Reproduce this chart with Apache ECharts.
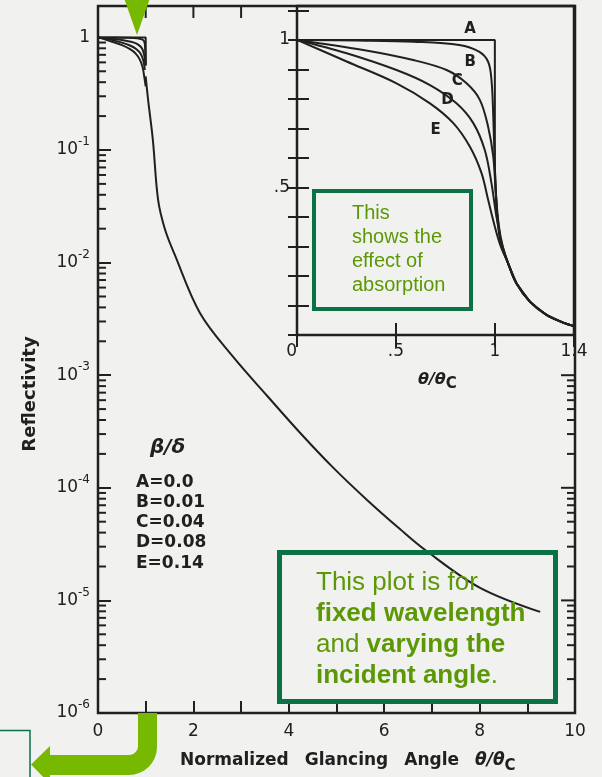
<!DOCTYPE html>
<html>
<head>
<meta charset="utf-8">
<title>Reflectivity vs normalized glancing angle</title>
<script src="https://cdn.jsdelivr.net/npm/echarts@6/dist/echarts.min.js"></script>
<style>
  html, body { margin: 0; padding: 0; background: #f1f1ef; }
  #chart { width: 602px; height: 777px; }
</style>
</head>
<body>
<div id="chart"></div>
<script>
// ---------- values ----------
const curveNames = ['A', 'B', 'C', 'D', 'E'];
const betaOverDelta = ['0.0', '0.01', '0.04', '0.08', '0.14'];

// inset, linear reflectivity vs theta/theta_c, up to where the curves join
const curveA = [[0, 1], [0.5, 1], [1.0, 1], [1.0, 0.56], [1.01, 0.42], [1.03, 0.31]];
const curveB = [[0, 1], [0.3, 0.998], [0.59, 0.994], [0.82, 0.983], [0.92, 0.96], [0.966, 0.926],
                [0.983, 0.864], [0.992, 0.74], [1.0, 0.57], [1.01, 0.42], [1.03, 0.31]];
const curveC = [[0, 1], [0.335, 0.966], [0.587, 0.932], [0.756, 0.898], [0.857, 0.853], [0.924, 0.797],
                [0.966, 0.706], [0.992, 0.604], [1.005, 0.48], [1.02, 0.37], [1.04, 0.30]];
const curveD = [[0, 1], [0.251, 0.955], [0.503, 0.898], [0.672, 0.847], [0.806, 0.785], [0.891, 0.718],
                [0.949, 0.627], [0.983, 0.514], [1.008, 0.401], [1.035, 0.31]];
const curveE = [[0, 1], [0.251, 0.927], [0.503, 0.853], [0.672, 0.785], [0.79, 0.718], [0.874, 0.638],
                [0.933, 0.548], [0.966, 0.458], [1.0, 0.367], [1.03, 0.30]];
// shared part of the inset curves above the critical angle
const insetTail = [[1.067, 0.243], [1.109, 0.175], [1.177, 0.113], [1.261, 0.068], [1.345, 0.042], [1.4, 0.03]];

// main plot, log reflectivity above the critical angle
const mainTail = [[1.0, 0.45], [1.05, 0.28], [1.15, 0.123], [1.26, 0.036], [1.4, 0.02], [1.6, 0.012],
                  [2.14, 3.55e-3], [2.83, 1.46e-3], [3.54, 6.6e-4], [4.23, 3.1e-4], [4.93, 1.51e-4],
                  [5.64, 7.8e-5], [6.33, 4.3e-5], [6.86, 2.8e-5], [8.0, 1.3e-5], [9.27, 7.9e-6]];

// axis ticks
const mainXTicks = [0, 1, 2, 3, 4, 5, 6, 7, 8, 9, 10];
const mainTopTicks = [1, 2, 3];
const decadeExponents = [-6, -5, -4, -3, -2, -1, 0];
const rightMajorExponents = [-5, -4, -3];
const insetYLabels = { '1': '1', '0.5': '.5' };
const insetXLabels = { '0': '0', '0.5': '.5', '1': '1', '1.4': '1.4' };

// ---------- styling ----------
const INK = '#202020';
const GREEN_BOX = '#0b7246';
const GREEN_TEXT = '#5c9806';
const GREEN_ARROW = '#77b800';
const LETTER = '"DejaVu Sans", sans-serif';
const SLIDE = '"Liberation Sans", Arial, sans-serif';

const Y_MAX = 1.9;
const majorY = decadeExponents.map(e => Math.pow(10, e));
const minorY = [];
decadeExponents.slice(0, -1).forEach(e => {
  for (let m = 2; m <= 9; m++) minorY.push(m * Math.pow(10, e));
});

const chart = echarts.init(document.getElementById('chart'), null, { renderer: 'canvas' });

function curveLine(data, grid, smooth) {
  return {
    type: 'line', xAxisIndex: grid === 0 ? 0 : 1, yAxisIndex: grid === 0 ? 0 : 1,
    data: data, showSymbol: false, symbol: 'none', smooth: smooth ? 0.35 : false,
    lineStyle: { color: INK, width: 2 }, silent: true, z: 3
  };
}

function tickMarks(points, dx, dy) {
  return {
    type: 'custom', xAxisIndex: 0, yAxisIndex: 0, data: points, clip: false, silent: true, z: 4,
    renderItem: function (params, api) {
      const c = api.coord([api.value(0), api.value(1)]);
      return {
        type: 'line',
        shape: { x1: c[0], y1: c[1], x2: c[0] + dx, y2: c[1] + dy },
        style: { stroke: INK, lineWidth: 2 }
      };
    }
  };
}

const insetCurves = [curveA, curveB, curveC, curveD, curveE];
const series = [];
insetCurves.forEach((c, i) => {
  series.push(curveLine(c.filter(p => p[0] <= 1.0), 0, i > 0));
});
series.push(curveLine(mainTail, 0, true));
insetCurves.forEach((c, i) => {
  series.push(curveLine(c.concat(insetTail), 1, i > 0));
});
series.push(tickMarks(minorY.map(v => [0, v]), 8, 0));
series.push(tickMarks(minorY.filter(v => v <= 1e-3).map(v => [10, v]), -8, 0));
series.push(tickMarks(rightMajorExponents.map(e => [10, Math.pow(10, e)]), -14, 0));
series.push(tickMarks(mainTopTicks.map(x => [x, Y_MAX]), 0, 12));

const supRich = {
  b: { fontFamily: LETTER, fontSize: 17, color: INK, lineHeight: 28 },
  s: { fontFamily: LETTER, fontSize: 12, color: INK, lineHeight: 12, verticalAlign: 'top' }
};

const option = {
  animation: false,
  backgroundColor: '#f1f1ef',
  grid: [
    { left: 98, top: 6, width: 477, height: 707, show: true, borderColor: INK, borderWidth: 2.5,
      backgroundColor: 'transparent', containLabel: false },
    { left: 297, top: 6, width: 277, height: 329, show: true, borderColor: INK, borderWidth: 2.5,
      backgroundColor: 'transparent', containLabel: false }
  ],
  xAxis: [
    {
      gridIndex: 0, type: 'value', min: 0, max: 10, interval: 1,
      axisLine: { show: false }, splitLine: { show: false },
      axisTick: { inside: true, length: 12, lineStyle: { color: INK, width: 2 } },
      axisLabel: {
        margin: 10, color: INK, fontFamily: LETTER, fontSize: 17,
        formatter: v => (mainXTicks.indexOf(v) >= 0 && v % 2 === 0 ? String(v) : '')
      }
    },
    {
      gridIndex: 1, type: 'value', min: 0, max: 1.4, interval: 0.5,
      axisLine: { show: false }, splitLine: { show: false },
      axisTick: { inside: true, length: 12, lineStyle: { color: INK, width: 2 } },
      axisLabel: {
        margin: 8, color: INK, fontFamily: LETTER, fontSize: 17, alignMinLabel: 'right',
        formatter: v => insetXLabels[String(Math.round(v * 10) / 10)] || ''
      }
    },
    {
      gridIndex: 1, type: 'value', position: 'top', min: 0, max: 1.4, interval: 0.5,
      axisLine: { show: false }, splitLine: { show: false }, axisLabel: { show: false },
      axisTick: { inside: true, length: 12, lineStyle: { color: INK, width: 2 } }
    }
  ],
  yAxis: [
    {
      gridIndex: 0, type: 'log', logBase: 10, min: 1e-6, max: Y_MAX,
      axisLine: { show: false }, splitLine: { show: false },
      axisTick: { inside: true, length: 13, lineStyle: { color: INK, width: 2 }, customValues: majorY },
      axisLabel: {
        margin: 8, customValues: majorY, rich: supRich,
        formatter: v => {
          const e = Math.round(Math.log10(v));
          return e === 0 ? '{b|1}' : '{b|10}{s|' + e + '}';
        }
      }
    },
    {
      gridIndex: 1, type: 'value', min: 0, max: 1.115, interval: 0.1,
      axisLine: { show: false }, splitLine: { show: false },
      axisTick: { inside: true, length: 12, lineStyle: { color: INK, width: 2 } },
      axisLabel: {
        margin: 7, color: INK, fontFamily: LETTER, fontSize: 17,
        formatter: v => insetYLabels[String(Math.round(v * 10) / 10)] || ''
      }
    },
    {
      gridIndex: 1, type: 'value', position: 'right', min: 0, max: 1.115, interval: 0.1,
      axisLine: { show: false }, splitLine: { show: false }, axisLabel: { show: false },
      axisTick: { inside: true, length: 9, lineStyle: { color: INK, width: 2 } }
    }
  ],
  series: series
};

// curve letters in the inset, anchored in inset data space
const curveLabelAnchors = [[0.875, 1.035], [0.875, 0.925], [0.81, 0.86], [0.76, 0.797], [0.70, 0.695]];

chart.setOption(option);

function insetPoint(p) {
  return chart.convertToPixel({ gridIndex: 1 }, p);
}

// bent arrow outline: vertical stem from the axis, rounded elbow, head pointing left
function bentArrowOutline() {
  const pts = [[138, 713], [157, 713], [157, 747]];
  for (let k = 1; k <= 8; k++) {
    const a = (Math.PI / 2) * k / 8;
    pts.push([129 + 28 * Math.cos(a), 747 + 28 * Math.sin(a)]);
  }
  pts.push([50, 775], [50, 784], [31, 764.5], [50, 746], [50, 755]);
  for (let k = 0; k <= 8; k++) {
    const a = Math.PI / 2 - (Math.PI / 2) * k / 8;
    pts.push([129 + 9 * Math.cos(a), 746 + 9 * Math.sin(a)]);
  }
  return pts;
}

const legendLines = curveNames.map((n, i) => n + '=' + betaOverDelta[i]).join('\n');

const graphics = [
  // axis titles
  {
    type: 'text', x: 30, y: 394, rotation: Math.PI / 2,
    style: { text: 'Reflectivity', font: 'bold 18px ' + LETTER, fill: INK, align: 'center', verticalAlign: 'middle' }
  },
  {
    type: 'text', x: 180, y: 761,
    style: {
      text: '{t|Normalized}{g| }{t|Glancing}{g| }{t|Angle}{g| }{i|θ/θ}{c|C}',
      verticalAlign: 'middle',
      rich: {
        t: { fontFamily: LETTER, fontWeight: 'bold', fontSize: 17, fill: INK, lineHeight: 26 },
        g: { fontSize: 17, width: 16, lineHeight: 26 },
        i: { fontFamily: LETTER, fontWeight: 'bold', fontStyle: 'italic', fontSize: 17, fill: INK, lineHeight: 26 },
        c: { fontFamily: LETTER, fontWeight: 'bold', fontSize: 15, fill: INK, lineHeight: 12, verticalAlign: 'bottom' }
      }
    }
  },
  {
    type: 'text', x: 418, y: 380,
    style: {
      text: '{i|θ/θ}{c|C}',
      verticalAlign: 'middle',
      rich: {
        i: { fontFamily: LETTER, fontWeight: 'bold', fontStyle: 'italic', fontSize: 16, fill: INK, lineHeight: 24 },
        c: { fontFamily: LETTER, fontWeight: 'bold', fontSize: 15, fill: INK, lineHeight: 12, verticalAlign: 'bottom' }
      }
    }
  },
  // absorption legend
  {
    type: 'text', x: 150, y: 448,
    style: { text: 'β/δ', font: 'italic bold 20px ' + LETTER, fill: INK, verticalAlign: 'middle' }
  },
  {
    type: 'text', x: 136, y: 472,
    style: { text: legendLines, font: 'bold 17px ' + LETTER, fill: INK, lineHeight: 20.3 }
  },
  // note boxes
  {
    type: 'rect', z: 50,
    shape: { x: 314, y: 191, width: 157, height: 118 },
    style: { fill: 'none', stroke: GREEN_BOX, lineWidth: 4 }
  },
  {
    type: 'text', x: 352, y: 201, z: 50,
    style: { text: 'This\nshows the\neffect of\nabsorption', font: '20px ' + SLIDE, fill: GREEN_TEXT, lineHeight: 24 }
  },
  {
    type: 'rect', z: 50,
    shape: { x: 279.5, y: 552.5, width: 276, height: 149 },
    style: { fill: 'none', stroke: GREEN_BOX, lineWidth: 5 }
  },
  {
    type: 'text', x: 316, y: 567, z: 50,
    style: {
      text: '{r|This plot is for}\n{b|fixed wavelength}\n{r|and }{b|varying the}\n{b|incident angle}{r|.}',
      rich: {
        r: { fontFamily: SLIDE, fontSize: 26, fill: GREEN_TEXT, lineHeight: 31 },
        b: { fontFamily: SLIDE, fontSize: 26, fontWeight: 'bold', fill: GREEN_TEXT, lineHeight: 31 }
      }
    }
  },
  {
    type: 'rect', z: 50,
    shape: { x: -5, y: 730.5, width: 35, height: 60 },
    style: { fill: 'none', stroke: GREEN_BOX, lineWidth: 1.5 }
  },
  // arrows
  {
    type: 'polygon', z: 60,
    shape: { points: [[124, -2], [150, -2], [137, 35]] },
    style: { fill: GREEN_ARROW }
  },
  {
    type: 'polygon', z: 60,
    shape: { points: bentArrowOutline() },
    style: { fill: GREEN_ARROW }
  }
];

curveNames.forEach((n, i) => {
  const p = insetPoint(curveLabelAnchors[i]);
  graphics.push({
    type: 'text', x: p[0], y: p[1], z: 10,
    style: { text: n, font: 'bold 15px ' + LETTER, fill: INK, align: 'center', verticalAlign: 'middle' }
  });
});

chart.setOption({ graphic: graphics });
</script>
</body>
</html>
